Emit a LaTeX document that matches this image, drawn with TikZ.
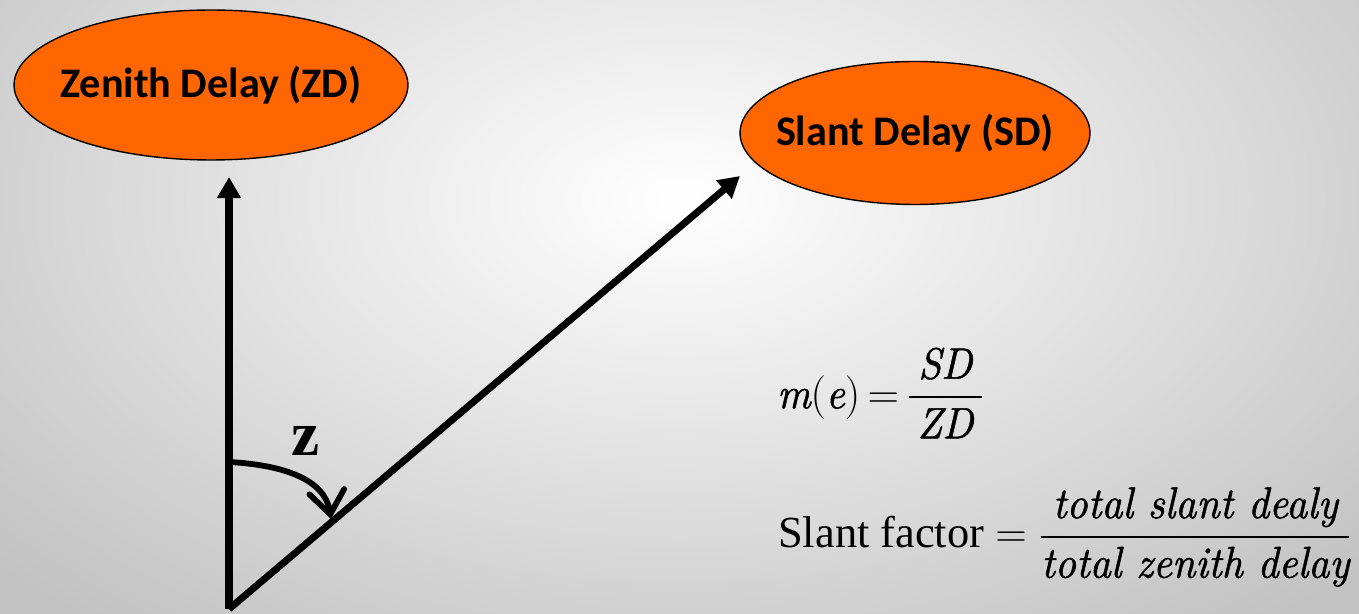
\documentclass[tikz,border=0pt]{standalone}
\usepackage{amsmath}
\usepackage{graphicx}
\usepackage{fontspec}
\setmainfont{Liberation Serif}
\newfontfamily\boxfont{Carlito}
\newfontfamily\formit{lmroman10-italic.otf}[FakeBold=1.2]
\newcommand{\itword}[1]{\text{\scalebox{0.93}[1]{\formit\bfseries #1}}}
\newcommand{\wgap}{\hspace{9pt}}
\usepackage{tikz}
\usetikzlibrary{arrows.meta, shapes.geometric, calc}

\definecolor{delayorange}{HTML}{FF6600}
\tikzset{
  delay/.style={shape=ellipse,draw=black,line width=0.8pt,fill=delayorange,inner sep=0pt},
  delaytext/.style={font=\boxfont\bfseries\fontsize{24}{28}\selectfont},
  ray/.style={line width=4pt,-{Triangle[length=12pt,width=13pt]}},
}

\begin{document}
\begin{tikzpicture}[x=0.02cm,y=-0.02cm]
\useasboundingbox (0,0) rectangle (1359,614);
\begin{scope}
\clip (0,0) rectangle (1359,614);
\shade[inner color=white,outer color=black!24] (-250,-350) rectangle (1609,750);
\end{scope}

\node[delay,minimum width=7.88cm,minimum height=3.0cm,
  label={[delaytext]center:Zenith Delay (ZD)}] (ZD) at (211,85) {};
\node[delay,minimum width=7.0cm,minimum height=2.86cm,
  label={[delaytext]center:Slant Delay (SD)}] (SD) at (915,133) {};

\coordinate (O) at (229,609);
\coordinate (ZT) at (229,177);
\coordinate (ST) at (740,176);
\coordinate (A1) at (229,462);
\coordinate (A2) at (331,519);

\draw[ray] (O) -- (ZT);
\draw[ray] (O) -- (ST);
\draw[line width=3.3pt,line cap=round,-{Straight Barb[length=13pt,width=20pt,line cap=round]}]
  (A1) .. controls (285,465) and (325,480) .. (A2);

\node[font=\bfseries\fontsize{36}{40}\selectfont] (Z) at (306,441) {z};

\node[anchor=west,font=\fontsize{25}{30}\selectfont] (ME) at (771,393)
  {$\itword{m}(\itword{e})\mskip-2mu=\mskip-2mu\dfrac{\hspace{5pt}\itword{SD}\hspace{5pt}}{\hspace{5pt}\itword{ZD}\hspace{5pt}}$};
\node[anchor=west,font=\fontsize{25.3}{30}\selectfont] (SF) at (772,537)
  {Slant factor $=\dfrac{\hspace{2pt}\itword{total\wgap slant\wgap dealy}\hspace{2pt}}{\itword{total\wgap zenith\wgap delay}}$};
\end{tikzpicture}
\end{document}
